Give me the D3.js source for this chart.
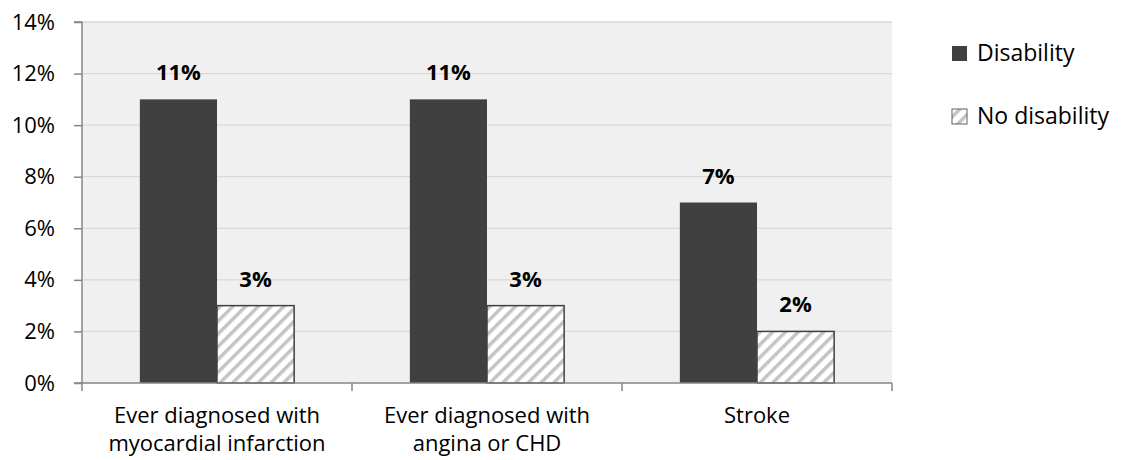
<!DOCTYPE html>
<html>
<head>
<meta charset="utf-8">
<script src="https://cdn.jsdelivr.net/npm/d3@7"></script>
<style>
  body { margin: 0; background: #fff; }
  svg { font-family: "Open Sans", Lato, sans-serif; }
</style>
</head>
<body>
<svg id="chart" width="1137" height="460"></svg>
<script>
const categories = ["Ever diagnosed with|myocardial infarction", "Ever diagnosed with|angina or CHD", "Stroke"];
const seriesNames = ["Disability", "No disability"];
const disability = [11, 11, 7];
const noDisability = [3, 3, 2];
const yTicks = [0, 2, 4, 6, 8, 10, 12, 14];

const margin = { top: 22, left: 82, right: 245, bottom: 77 };
const width = 1137 - margin.left - margin.right;
const height = 460 - margin.top - margin.bottom;
const fontSize = 22;

const svg = d3.select("#chart");

// hatch pattern for "No disability"
const defs = svg.append("defs");
const pat = defs.append("pattern")
  .attr("id", "hatch")
  .attr("patternUnits", "userSpaceOnUse")
  .attr("width", 9).attr("height", 9)
  .attr("patternTransform", "rotate(45)");
pat.append("rect").attr("width", 9).attr("height", 9).attr("fill", "#fff");
pat.append("rect").attr("x", 0).attr("width", 3.5).attr("height", 9).attr("fill", "#c4c4c4");

const g = svg.append("g").attr("transform", `translate(${margin.left},${margin.top})`);

const x = d3.scaleBand().domain(categories).range([0, width]).paddingInner(0).paddingOuter(0);
const xs = d3.scaleBand().domain(seriesNames).range([0, x.bandwidth()]).paddingInner(0).paddingOuter(0.75);
const y = d3.scaleLinear().domain([0, 14]).range([height, 0]);

// background
g.append("rect").attr("width", width).attr("height", height).attr("fill", "#f0f0f0");

// gridlines
g.selectAll(".grid").data(yTicks.slice(1)).join("line")
  .attr("x1", 0).attr("x2", width)
  .attr("y1", d => y(d)).attr("y2", d => y(d))
  .attr("stroke", "#d9d9d9").attr("stroke-width", 1.3);

// bars
const rows = categories.map((c, i) => ({ c, vals: [disability[i], noDisability[i]] }));
const grp = g.selectAll(".cat").data(rows).join("g").attr("transform", d => `translate(${x(d.c)},0)`);
grp.selectAll("rect.bar").data(d => d.vals.map((v, j) => ({ s: seriesNames[j], v })))
  .join("rect")
  .attr("x", d => xs(d.s)).attr("width", xs.bandwidth())
  .attr("y", d => y(d.v)).attr("height", d => height - y(d.v))
  .attr("fill", d => d.s === "Disability" ? "#404040" : "url(#hatch)")
  .attr("stroke", d => d.s === "Disability" ? "none" : "#404040")
  .attr("stroke-width", 1.5);
grp.selectAll("text.lbl").data(d => d.vals.map((v, j) => ({ s: seriesNames[j], v })))
  .join("text")
  .attr("x", d => xs(d.s) + xs.bandwidth() / 2)
  .attr("y", d => y(d.v) - 19)
  .attr("text-anchor", "middle")
  .attr("font-size", fontSize).attr("font-weight", "bold").attr("fill", "#000")
  .text(d => d.v + "%");

// y axis
const yAxis = g.append("g").call(d3.axisLeft(y).tickValues(yTicks).tickFormat(d => d + "%").tickSize(8).tickPadding(19));
yAxis.select(".domain").attr("stroke", "#868686").attr("stroke-width", 1.5).attr("d", `M-8,0H0V${height}H-8`);
yAxis.selectAll(".tick line").attr("stroke", "#868686").attr("stroke-width", 1.5);
yAxis.selectAll(".tick text").attr("font-size", fontSize).attr("fill", "#000").attr("font-family", "'Open Sans', Lato, sans-serif");

// x axis
const xAxis = g.append("g").attr("transform", `translate(0,${height})`);
xAxis.append("line").attr("x1", 0).attr("x2", width).attr("stroke", "#868686").attr("stroke-width", 1.5);
xAxis.selectAll("line.tk").data([0, 1, 2, 3]).join("line")
  .attr("x1", d => d * x.step()).attr("x2", d => d * x.step())
  .attr("y1", 0).attr("y2", 8)
  .attr("stroke", "#868686").attr("stroke-width", 1.5);
const xl = xAxis.selectAll("text.cl").data(categories).join("text")
  .attr("text-anchor", "middle")
  .attr("font-size", fontSize).attr("fill", "#000")
  .attr("transform", d => `translate(${x(d) + x.bandwidth() / 2},0)`);
xl.selectAll("tspan").data(d => d.split("|")).join("tspan")
  .attr("x", 0).attr("y", (d, i) => 40 + i * 28)
  .text(d => d);

// legend
const leg = svg.append("g").attr("transform", "translate(952,0)");
const legBase = [61, 124];
seriesNames.forEach((s, i) => {
  leg.append("rect").attr("x", 0).attr("y", legBase[i] - 15).attr("width", 15).attr("height", 15)
    .attr("fill", i === 0 ? "#404040" : "url(#hatch)")
    .attr("stroke", i === 0 ? "none" : "#606060");
  leg.append("text").attr("x", 25).attr("y", legBase[i]).attr("font-size", 23).attr("fill", "#000").text(s);
});
</script>
</body>
</html>
